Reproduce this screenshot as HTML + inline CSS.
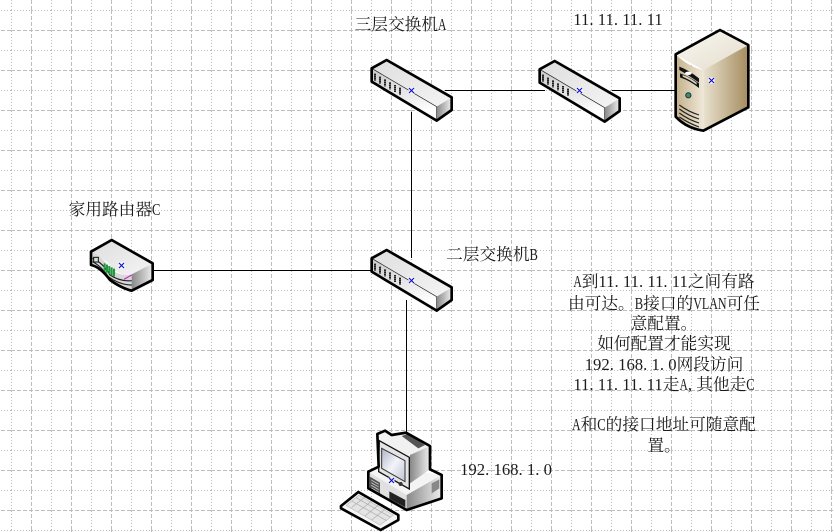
<!DOCTYPE html>
<html><head><meta charset="utf-8"><style>
html,body{margin:0;padding:0;background:#fff}
svg{display:block}
text{fill:#1c1c1c;text-anchor:middle;font-family:"Liberation Serif","Noto Serif CJK SC",serif;font-size:16.7px}
.p{letter-spacing:4.2px}
</style></head><body>
<svg width="834" height="532" viewBox="0 0 834 532" xmlns="http://www.w3.org/2000/svg">
<defs>
<pattern id="g" width="40" height="40" patternUnits="userSpaceOnUse" x="11" y="10">
<path d="M0.5 0V40M20.5 0V40" stroke="#bdbdbd" stroke-dasharray="1 2" fill="none"/>
<path d="M0 0.5H40M0 20.5H40" stroke="#bdbdbd" stroke-dasharray="1 2" fill="none"/>
<path d="M20.5 0V40" stroke="#bdbdbd" stroke-dasharray="4 2" fill="none"/>
<path d="M0 20.5H40" stroke="#bdbdbd" stroke-dasharray="4 2" fill="none"/>
</pattern>
<linearGradient id="st" x1="0" y1="0" x2="1" y2="1"><stop offset="0" stop-color="#dedede"/><stop offset="1" stop-color="#f4f4f4"/></linearGradient>
<linearGradient id="sf" x1="0" y1="0" x2="0.3" y2="1"><stop offset="0" stop-color="#c8c8c8"/><stop offset="1" stop-color="#ffffff"/></linearGradient>
<linearGradient id="sr" x1="0" y1="0" x2="1" y2="0"><stop offset="0" stop-color="#888888"/><stop offset="1" stop-color="#eeeeee"/></linearGradient>
<linearGradient id="bt" x1="0" y1="0" x2="1" y2="1"><stop offset="0" stop-color="#fbf9f3"/><stop offset="1" stop-color="#e2dccb"/></linearGradient>
<linearGradient id="bf" x1="0" y1="0" x2="1" y2="0"><stop offset="0" stop-color="#c4b08a"/><stop offset="1" stop-color="#efe8d8"/></linearGradient>
<linearGradient id="br" x1="0" y1="0" x2="1" y2="0"><stop offset="0" stop-color="#e9e2d0"/><stop offset="1" stop-color="#a58c5e"/></linearGradient>
<linearGradient id="sc" x1="0" y1="0" x2="1" y2="1"><stop offset="0" stop-color="#b0b4c6"/><stop offset=".5" stop-color="#f3f4fa"/><stop offset="1" stop-color="#bfc3d4"/></linearGradient>
<g id="sw">
<path d="M65 55L110 30L305 142L260 170Z" fill="url(#st)"/>
<path d="M65 55L260 170V212L65 95Z" fill="url(#sf)"/>
<path d="M260 170L305 142V180L260 212Z" fill="url(#sr)"/>
<path d="M65 55L260 170M260 170V212" stroke="#222" stroke-width="2" fill="none"/>
<path d="M75 71V92M90 80V101M105 88V109M120 97V118M135 105V126M150 113V134" stroke="#222" stroke-width="6" stroke-dasharray="5 1" fill="none"/>
<path d="M65 55L110 30L305 142V180L260 212L65 95Z" fill="none" stroke="#000" stroke-width="8" stroke-linejoin="round"/>
</g>
<g id="x"><rect x="-3" y="-3" width="6" height="6" fill="#fff" opacity=".85"/><path d="M-2.500 -2.500L2.500 2.500M2.500 -2.500L-2.500 2.500" stroke="#1010d0" stroke-width="1.200" fill="none"/></g>
</defs>
<rect width="834" height="532" fill="#fff"/>
<rect width="834" height="532" fill="url(#g)"/>

<g stroke="#000" stroke-width="1" fill="none">
<path d="M445 90.500H545"/>
<path d="M612 90.500H680"/>
<path d="M411.500 112V258"/>
<path d="M150 270.500H378"/>
<path d="M406.500 300V432"/>
</g>

<use href="#sw" transform="translate(350 50) scale(.33333)"/>
<use href="#sw" transform="translate(518 51) scale(.33333)"/>
<use href="#sw" transform="translate(350 240) scale(.33333)"/>

<!-- server -->
<g transform="translate(660 20) scale(.33333)">
<path d="M47 103L180 30L265 75L130 150Q85 125 47 103Z" fill="url(#bt)"/>
<path d="M47 103Q85 140 130 150V332Q80 325 47 290Z" fill="url(#bf)"/>
<path d="M130 150L265 75V262L130 332Z" fill="url(#br)"/>
<path d="M58 140Q85 150 117 175L117 188Q85 165 58 150Z" fill="#111"/>
<path d="M60 160Q90 170 117 190V204Q90 182 60 172Z" fill="#111"/>
<path d="M68 165Q90 172 110 188V194Q90 180 68 170Z" fill="#d8d0bc"/>
<ellipse cx="85" cy="160" rx="10" ry="5" fill="#fff"/>
<circle cx="85" cy="226" r="8" fill="#2f8f78" stroke="#222" stroke-width="2.500"/>
<path d="M58 255Q85 275 117 285M58 267Q85 287 117 297M58 279Q85 299 117 309M58 291Q85 309 117 321" stroke="#222" stroke-width="3.500" fill="none"/>
<path d="M47 103L180 30L265 75V262L130 332Q80 325 47 290Z" fill="none" stroke="#000" stroke-width="8" stroke-linejoin="round"/>
</g>

<!-- router -->
<g transform="translate(80 230) scale(.33333)">
<path d="M33 65L95 30L218 100L155 135Q120 145 80 95Z" fill="url(#st)"/>
<path d="M33 65Q50 70 75 95Q110 145 155 133V182Q125 175 90 150Q60 110 33 105Z" fill="#d8d8d8"/>
<path d="M155 133L218 100V150L155 182Z" fill="url(#sr)"/>
<path d="M38 85Q70 100 90 135Q120 155 155 152M38 95Q65 110 85 140Q120 165 155 165" stroke="#222" stroke-width="3.500" fill="none"/>
<rect x="41" y="82" width="14" height="14" fill="#cfe7c9" stroke="#111" stroke-width="3"/>
<path d="M74 100V124M81 104V128M88 108V132M95 112V136M102 116V140" stroke="#1f9a3c" stroke-width="6" fill="none"/>
<path d="M132 148L155 135" stroke="#d020d0" stroke-width="3.500" fill="none"/>
<path d="M33 65L95 30L218 100V150L155 182Q125 175 90 150Q60 110 33 105Z" fill="none" stroke="#000" stroke-width="8" stroke-linejoin="round"/>
</g>

<!-- pc -->
<g transform="translate(330 420) scale(.33333)">
<path d="M115 155L145 140L335 165V235L230 270L115 205Z" fill="#f4f4f4"/>
<path d="M115 155L230 225V270L115 205Z" fill="#e0e0e0"/>
<path d="M230 225L335 165V235L230 270Z" fill="url(#sr)"/>
<path d="M120 170L150 188V225L120 205Z" fill="#555"/>
<path d="M124 180L146 193M124 188L146 201M124 196L146 209M124 204L146 217" stroke="#ddd" stroke-width="2" fill="none"/>
<path d="M178 214L226 240V262L178 236Z" fill="#222"/>
<path d="M305 190L328 178V205L305 220Z" fill="#888"/>
<path d="M142 42L165 32L185 45L228 38L300 78V148L240 190L150 150Z" fill="#f1f1f1"/>
<path d="M240 105L300 78V148L240 190Z" fill="url(#sr)"/>
<path d="M215 48L232 42L285 75L265 85Z" fill="#555"/>
<path d="M148 62L238 112V207L146 155Z" fill="#e4e4e4" stroke="#111" stroke-width="4"/>
<path d="M155 85L225 122V185L155 145Z" fill="url(#sc)" stroke="#333" stroke-width="3"/>
<circle cx="212" cy="192" r="6" fill="#333"/>
<path d="M142 42L165 32L185 45L228 38L300 78V148L335 165V235L230 270L115 205V155L146 140Z" fill="none" stroke="#000" stroke-width="8" stroke-linejoin="round"/>
<path d="M33 258L85 216L205 285V300L152 330L33 265Z" fill="#f4f4f4"/>
<path d="M48 256L86 226L190 285L150 315Z" fill="#e4e4e4" stroke="#bbb" stroke-width="2"/>
<path d="M65 243L170 302M78 233L182 292M65 262L105 231M85 275L125 243M105 288L145 255M125 300L165 268" stroke="#aaa" stroke-width="2" fill="none"/>
<path d="M33 258L85 216L205 285V300L152 330L33 265Z" fill="none" stroke="#000" stroke-width="8" stroke-linejoin="round"/>
</g>

<use href="#x" x="411.500" y="90.500"/>
<use href="#x" x="579.500" y="90.500"/>
<use href="#x" x="711.500" y="80.500"/>
<use href="#x" x="121.500" y="265.500"/>
<use href="#x" x="411.500" y="280.500"/>
<use href="#x" x="391.500" y="480.500"/>

<text x="400.500" y="30">三层交换机<tspan textLength="8.400" lengthAdjust="spacingAndGlyphs">A</tspan></text>
<text x="618" y="25">11<tspan class="p">.</tspan>11<tspan class="p">.</tspan>11<tspan class="p">.</tspan>11</text>
<text x="114.500" y="215">家用路由器<tspan textLength="8.400" lengthAdjust="spacingAndGlyphs">C</tspan></text>
<text x="492" y="260">二层交换机<tspan textLength="8.400" lengthAdjust="spacingAndGlyphs">B</tspan></text>
<text x="506" y="475">192<tspan class="p">.</tspan>168<tspan class="p">.</tspan>1<tspan class="p">.</tspan>0</text>

<text x="664" y="287"><tspan textLength="8.400" lengthAdjust="spacingAndGlyphs">A</tspan>到11<tspan class="p">.</tspan>11<tspan class="p">.</tspan>11<tspan class="p">.</tspan>11之间有路</text>
<text x="664" y="309">由可达。<tspan textLength="8.400" lengthAdjust="spacingAndGlyphs">B</tspan>接口的<tspan textLength="33.400" lengthAdjust="spacingAndGlyphs">VLAN</tspan>可任</text>
<text x="664" y="329">意配置。</text>
<text x="664" y="349">如何配置才能实现</text>
<text x="664" y="370">192<tspan class="p">.</tspan>168<tspan class="p">.</tspan>1<tspan class="p">.</tspan>0网段访问</text>
<text x="664" y="390">11<tspan class="p">.</tspan>11<tspan class="p">.</tspan>11<tspan class="p">.</tspan>11走<tspan textLength="8.400" lengthAdjust="spacingAndGlyphs">A</tspan><tspan class="p">,</tspan>其他走<tspan textLength="8.400" lengthAdjust="spacingAndGlyphs">C</tspan></text>
<text x="664" y="430"><tspan textLength="8.400" lengthAdjust="spacingAndGlyphs">A</tspan>和<tspan textLength="8.400" lengthAdjust="spacingAndGlyphs">C</tspan>的接口地址可随意配</text>
<text x="664" y="451">置。</text>
</svg>
</body></html>
